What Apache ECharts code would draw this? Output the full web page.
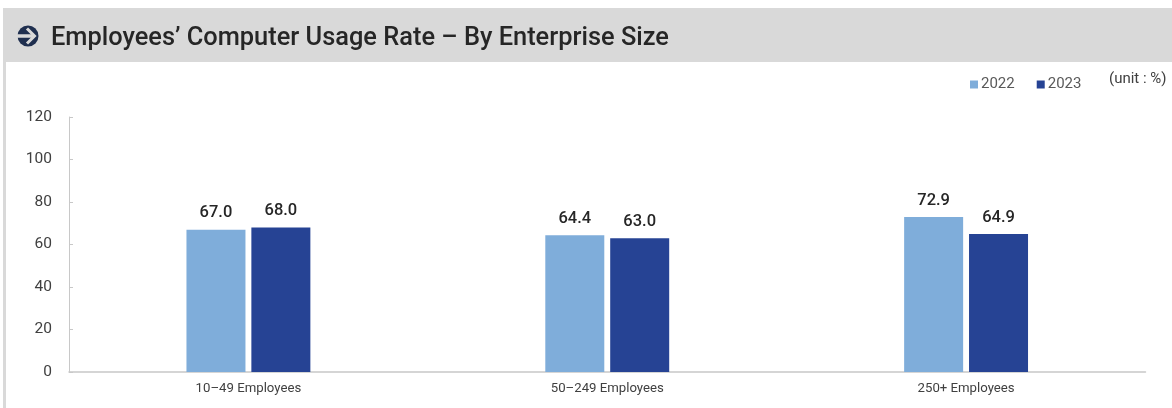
<!DOCTYPE html>
<html><head><meta charset="utf-8">
<style>html,body{margin:0;padding:0;background:#fff}#c{width:1172px;height:408px}</style>
<script src="https://cdn.jsdelivr.net/npm/echarts@6/dist/echarts.min.js"></script>
</head><body><div id="c"></div>
<script>
const categories = ['10\u201349 Employees', '50\u2013249 Employees', '250+ Employees'];
const values2022 = [67.0, 64.4, 72.9];
const values2023 = [68.0, 63.0, 64.9];
const yTicks = {min: 0, max: 120, interval: 20};
const titleText = 'Employees\u2019 Computer Usage Rate \u2013 By Enterprise Size';
const unitText = '(unit : %)';
const font = 'Roboto,"Noto Sans",sans-serif';
const chart = echarts.init(document.getElementById('c'), null, {renderer: 'canvas'});
const label = {show: true, position: 'top', distance: 8, color: '#262626', fontSize: 16.5, fontWeight: 500, fontFamily: font, formatter: p => p.value.toFixed(1)};
chart.setOption({
  animation: false,
  backgroundColor: '#fff',
  textStyle: {fontFamily: font},
  grid: {left: 69, right: 26.5, top: 117, bottom: 36, containLabel: false},
  legend: {
    left: 965, top: 72, itemWidth: 8, itemHeight: 8, itemGap: 22, icon: 'rect',
    textStyle: {color: '#595959', fontSize: 15, fontFamily: font, padding: [2, 0, 0, -2]},
    data: ['2022', '2023']
  },
  xAxis: {
    type: 'category', data: categories,
    axisLine: {lineStyle: {color: '#c8c8c8', width: 1.5}},
    axisTick: {show: false},
    axisLabel: {color: '#404040', fontSize: 13.2, fontFamily: font, margin: 10}
  },
  yAxis: {
    type: 'value', min: yTicks.min, max: yTicks.max, interval: yTicks.interval,
    splitLine: {show: false},
    axisLine: {show: true, lineStyle: {color: '#c8c8c8', width: 1}},
    axisTick: {show: true, inside: true, length: 4, lineStyle: {color: '#c8c8c8'}},
    axisLabel: {color: '#404040', fontSize: 15.5, fontFamily: font, margin: 17, lineHeight: 18, padding: [4, 0, 0, 0]}
  },
  series: [
    {name: '2022', type: 'bar', data: values2022, barWidth: 59, barGap: '10%', itemStyle: {color: '#7fadda'}, label},
    {name: '2023', type: 'bar', data: values2023, barWidth: 59, barGap: '10%', itemStyle: {color: '#264394'}, label}
  ],
  graphic: [
    {type: 'rect', z: -1, shape: {x: 3, y: 8, width: 1169, height: 54}, style: {fill: '#d9d9d9'}},
    {type: 'rect', z: -1, shape: {x: 3, y: 62, width: 3, height: 346}, style: {fill: '#d9d9d9'}},
    {type: 'circle', shape: {cx: 28, cy: 36, r: 10.5}, style: {fill: '#1f2f4f'}},
    {type: 'polyline', shape: {points: [[17, 36], [33, 36]]}, style: {stroke: '#d9d9d9', lineWidth: 3.5, fill: null}},
    {type: 'polyline', shape: {points: [[27, 28.5], [34.5, 36], [27, 43.5]]}, style: {stroke: '#d9d9d9', lineWidth: 3, fill: null}},
    {type: 'text', left: 51, top: 26, style: {text: titleText, fill: '#262626', fontSize: 25.4, fontWeight: 500, fontFamily: font}},
    {type: 'text', left: 1109, top: 72, style: {text: unitText, fill: '#404040', fontSize: 15, fontFamily: font}}
  ]
});
</script></body></html>
